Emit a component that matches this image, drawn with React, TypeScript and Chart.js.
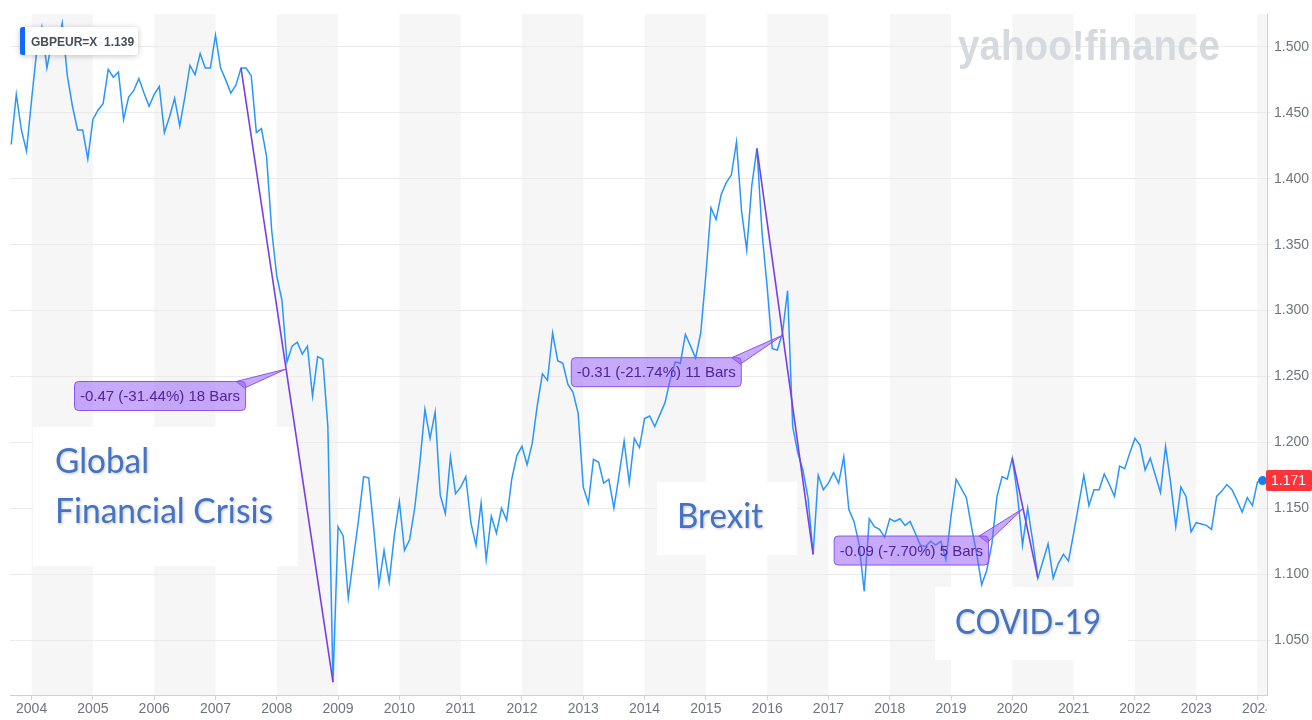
import React, { useEffect, useRef } from "react";
import { Chart, registerables } from "chart.js";

Chart.register(...registerables);

// Month index 0 = Jan 2004; first observation is Sep 2003 (index -4)
const FIRST_MONTH = -4;

// GBP/EUR monthly closes, Sep 2003 .. Feb 2024
const gbpeur: number[] = [
  // 2003 Sep-Dec
  1.426, 1.464, 1.437, 1.421,
  // 2004
  1.460, 1.497, 1.515, 1.484, 1.505, 1.498, 1.518, 1.478, 1.455, 1.437, 1.437, 1.415,
  // 2005
  1.445, 1.452, 1.457, 1.483, 1.477, 1.481, 1.445, 1.462, 1.467, 1.476, 1.465, 1.455,
  // 2006
  1.464, 1.470, 1.435, 1.447, 1.461, 1.440, 1.462, 1.486, 1.479, 1.495, 1.484, 1.484,
  // 2007
  1.509, 1.484, 1.475, 1.465, 1.471, 1.484, 1.484, 1.478, 1.435, 1.438, 1.417, 1.361,
  // 2008
  1.326, 1.308, 1.261, 1.273, 1.276, 1.267, 1.273, 1.235, 1.265, 1.263, 1.212, 1.018,
  // 2009
  1.136, 1.129, 1.082, 1.112, 1.141, 1.174, 1.173, 1.134, 1.092, 1.118, 1.094, 1.129,
  // 2010
  1.155, 1.118, 1.126, 1.150, 1.184, 1.225, 1.203, 1.223, 1.160, 1.146, 1.189, 1.161,
  // 2011
  1.166, 1.174, 1.139, 1.122, 1.154, 1.111, 1.144, 1.131, 1.150, 1.141, 1.172, 1.190,
  // 2012
  1.197, 1.183, 1.199, 1.228, 1.252, 1.247, 1.283, 1.262, 1.260, 1.244, 1.238, 1.222,
  // 2013
  1.166, 1.154, 1.187, 1.185, 1.169, 1.172, 1.150, 1.175, 1.201, 1.169, 1.203, 1.196,
  // 2014
  1.218, 1.220, 1.212, 1.221, 1.230, 1.247, 1.261, 1.260, 1.282, 1.273, 1.264, 1.283,
  // 2015
  1.327, 1.378, 1.369, 1.388, 1.397, 1.403, 1.428, 1.375, 1.346, 1.395, 1.423, 1.359,
  // 2016
  1.318, 1.271, 1.270, 1.283, 1.315, 1.212, 1.192, 1.179, 1.158, 1.115, 1.175, 1.164,
  // 2017
  1.169, 1.177, 1.169, 1.189, 1.149, 1.140, 1.123, 1.087, 1.142, 1.136, 1.134, 1.128,
  // 2018
  1.142, 1.140, 1.142, 1.137, 1.140, 1.131, 1.122, 1.121, 1.125, 1.122, 1.125, 1.111,
  // 2019
  1.144, 1.172, 1.165, 1.158, 1.136, 1.116, 1.092, 1.103, 1.123, 1.159, 1.174, 1.172,
  // 2020
  1.188, 1.160, 1.122, 1.150, 1.125, 1.097, 1.110, 1.123, 1.097, 1.108, 1.115, 1.110,
  // 2021
  1.131, 1.153, 1.175, 1.152, 1.164, 1.164, 1.176, 1.168, 1.159, 1.182, 1.180, 1.192,
  // 2022
  1.203, 1.198, 1.179, 1.188, 1.175, 1.162, 1.197, 1.169, 1.136, 1.166, 1.159, 1.132,
  // 2023
  1.139, 1.138, 1.137, 1.134, 1.159, 1.163, 1.168, 1.164, 1.156, 1.147, 1.158, 1.152,
  // 2024 Jan-Feb
  1.170, 1.171,
];

const yearTicks: number[] = [
  2004, 2005, 2006, 2007, 2008, 2009, 2010, 2011, 2012, 2013, 2014,
  2015, 2016, 2017, 2018, 2019, 2020, 2021, 2022, 2023, 2024,
];

const priceTicks: number[] = [1.05, 1.1, 1.15, 1.2, 1.25, 1.3, 1.35, 1.4, 1.45, 1.5];

// Drawdown measurements (start month, end month) and their labels
const dropStarts: number[] = [41, 142, 192];
const dropEnds: number[] = [59, 153, 197];
const dropLabels: string[] = [
  "-0.47 (-31.44%) 18 Bars",
  "-0.31 (-21.74%) 11 Bars",
  "-0.09 (-7.70%) 5 Bars",
];

const eventLabels: string[][] = [["Global", "Financial Crisis"], ["Brexit"], ["COVID-19"]];

const SYMBOL = "GBPEUR=X";
const SYMBOL_PRICE = "1.139";

// ---- styling (pixel layout) ----
const calloutStyle = [
  { t: 0.49, dx: -41, dy: 12 },
  { t: 0.46, dx: -42, dy: 22 },
  { t: 0.42, dx: -35, dy: 27 },
];
const eventBoxes = [
  { x: 33, y: 427, w: 265, h: 139, tx: 55, ty: [473, 523], mw: [94, 218] },
  { x: 657, y: 482, w: 140, h: 73, tx: 677, ty: [528], mw: [86] },
  { x: 935, y: 587, w: 193, h: 73, tx: 955, ty: [634], mw: [146] },
];

const valueAt = (m: number) => gbpeur[m - FIRST_MONTH];

function rr(ctx: CanvasRenderingContext2D, x: number, y: number, w: number, h: number, r: number) {
  ctx.beginPath();
  ctx.moveTo(x + r, y);
  ctx.lineTo(x + w - r, y);
  ctx.quadraticCurveTo(x + w, y, x + w, y + r);
  ctx.lineTo(x + w, y + h - r);
  ctx.quadraticCurveTo(x + w, y + h, x + w - r, y + h);
  ctx.lineTo(x + r, y + h);
  ctx.quadraticCurveTo(x, y + h, x, y + h - r);
  ctx.lineTo(x, y + r);
  ctx.quadraticCurveTo(x, y, x + r, y);
  ctx.closePath();
}

const decorPlugin = {
  id: "decor",
  beforeDraw(chart: any) {
    const { ctx, chartArea: a, scales } = chart;
    const x = scales.x;
    ctx.save();
    ctx.fillStyle = "#ffffff";
    ctx.fillRect(0, 0, chart.width, chart.height);
    ctx.fillStyle = "#f6f6f6";
    for (const yr of yearTicks) {
      if (yr % 2 !== 0) continue;
      const x0 = x.getPixelForValue((yr - 2004) * 12);
      const x1 = Math.min(x.getPixelForValue((yr - 2003) * 12), a.right);
      ctx.fillRect(x0, a.top, x1 - x0, a.bottom - a.top);
    }
    ctx.restore();
  },
  beforeDatasetsDraw(chart: any) {
    const { ctx } = chart;
    ctx.save();
    // watermark
    ctx.fillStyle = "#d6d9de";
    ctx.font = 'bold 42px "Liberation Sans", Arial, sans-serif';
    ctx.textBaseline = "alphabetic";
    ctx.fillText("yahoo!finance", 958, 60, 262);
    // event boxes
    eventBoxes.forEach((b, i) => {
      ctx.shadowColor = "transparent";
      ctx.fillStyle = "#ffffff";
      ctx.fillRect(b.x, b.y, b.w, b.h);
      ctx.font = '34px Lato, "Open Sans", sans-serif';
      ctx.fillStyle = "#4472c4";
      ctx.shadowColor = "rgba(0,0,0,0.22)";
      ctx.shadowBlur = 3;
      ctx.shadowOffsetX = 1;
      ctx.shadowOffsetY = 1;
      eventLabels[i].forEach((line, j) => {
        ctx.fillText(line, b.tx, b.ty[j], b.mw[j]);
      });
      ctx.shadowColor = "transparent";
      ctx.shadowBlur = 0;
      ctx.shadowOffsetX = 0;
      ctx.shadowOffsetY = 0;
    });
    ctx.restore();
  },
  afterDatasetsDraw(chart: any) {
    const { ctx, chartArea: a, scales } = chart;
    const x = scales.x;
    const y = scales.y;
    ctx.save();
    // callouts
    dropStarts.forEach((s, i) => {
      const e = dropEnds[i];
      const st = calloutStyle[i];
      const x0 = x.getPixelForValue(s);
      const y0 = y.getPixelForValue(valueAt(s));
      const x1 = x.getPixelForValue(e);
      const y1 = y.getPixelForValue(valueAt(e));
      const ax = x0 + (x1 - x0) * st.t;
      const ay = y0 + (y1 - y0) * st.t;
      ctx.font = '15px "Liberation Sans", Arial, sans-serif';
      const tw = ctx.measureText(dropLabels[i]).width;
      const w = tw + 11;
      const h = 29;
      const right = ax + st.dx;
      const top = ay + st.dy;
      const left = right - w;
      const fill = "rgba(143, 85, 247, 0.5)";
      const stroke = "#8a55ec";
      ctx.lineWidth = 1;
      ctx.beginPath();
      ctx.moveTo(right - 9, top + 0.5);
      ctx.lineTo(ax, ay);
      ctx.lineTo(right - 0.5, top + 7);
      ctx.closePath();
      ctx.fillStyle = fill;
      ctx.fill();
      ctx.strokeStyle = stroke;
      ctx.stroke();
      rr(ctx, left + 0.5, top + 0.5, w, h, 4);
      ctx.fillStyle = fill;
      ctx.fill();
      ctx.strokeStyle = stroke;
      ctx.stroke();
      ctx.fillStyle = "#4f2596";
      ctx.textBaseline = "middle";
      ctx.fillText(dropLabels[i], left + 6, top + h / 2 + 1.5);
    });

    // symbol label (top-left)
    ctx.shadowColor = "rgba(0,0,0,0.22)";
    ctx.shadowBlur = 6;
    ctx.shadowOffsetY = 1;
    rr(ctx, 20, 27, 118, 28, 3);
    ctx.fillStyle = "#ffffff";
    ctx.fill();
    ctx.shadowColor = "transparent";
    ctx.shadowBlur = 0;
    ctx.shadowOffsetY = 0;
    rr(ctx, 20, 27, 5, 28, 2.5);
    ctx.fillStyle = "#0f69ff";
    ctx.fill();
    ctx.fillRect(23, 27, 2, 28);
    ctx.fillStyle = "#ffffff";
    ctx.fillRect(25, 27, 2, 28);
    ctx.font = 'bold 12px "Liberation Sans", Arial, sans-serif';
    ctx.fillStyle = "#464e56";
    ctx.textBaseline = "alphabetic";
    ctx.fillText(SYMBOL + "  " + SYMBOL_PRICE, 31, 46, 104);

    // current price tag
    const last = gbpeur[gbpeur.length - 1];
    const py = y.getPixelForValue(last);
    rr(ctx, 1266, py - 10.5, 46, 21, 2);
    ctx.fillStyle = "#ff333a";
    ctx.fill();
    ctx.font = '14px "Liberation Sans", Arial, sans-serif';
    ctx.fillStyle = "#ffffff";
    ctx.textBaseline = "middle";
    ctx.fillText(last.toFixed(3), 1271, py + 0.5);

    // clip the last year label under the price-axis column
    ctx.fillStyle = "#ffffff";
    ctx.fillRect(1266.5, a.bottom + 1, chart.width - 1266.5, chart.height - a.bottom - 1);
    ctx.restore();
  },
};

export default function App() {
  const ref = useRef<HTMLCanvasElement | null>(null);

  useEffect(() => {
    document.body.style.margin = "0";
    const canvas = ref.current;
    if (!canvas) return;
    const seriesData = gbpeur.map((v, i) => ({ x: FIRST_MONTH + i, y: v }));
    const lastIndex = gbpeur.length - 1;
    const dropSets = dropStarts.map((s, i) => ({
      data: [
        { x: s, y: valueAt(s) },
        { x: dropEnds[i], y: valueAt(dropEnds[i]) },
      ],
      borderColor: "#7a3ee6",
      borderWidth: 1.6,
      pointRadius: 0,
      order: 1,
    }));

    const chart = new Chart(canvas, {
      type: "line",
      data: {
        datasets: [
          ...dropSets,
          {
            data: seriesData,
            borderColor: "rgb(40, 150, 252)",
            borderWidth: 1.5,
            tension: 0,
            pointRadius: (c: any) => (c.dataIndex === lastIndex ? 4.5 : 0),
            pointBackgroundColor: "rgb(18, 128, 245)",
            pointBorderWidth: 0,
            order: 2,
          },
        ],
      } as any,
      options: {
        animation: false,
        responsive: false,
        devicePixelRatio: 1,
        parsing: true,
        layout: { padding: { left: 10, top: 14, right: 0, bottom: 0 }, autoPadding: false },
        plugins: { legend: { display: false }, tooltip: { enabled: false } },
        events: [],
        scales: {
          x: {
            type: "linear",
            min: -4.23,
            max: 241.86,
            afterBuildTicks: (s: any) => {
              s.ticks = yearTicks.map((yr) => ({ value: (yr - 2004) * 12 }));
            },
            afterFit: (s: any) => {
              s.height = 25;
            },
            grid: { drawOnChartArea: false, drawTicks: true, tickLength: 5, color: "#d6d6d6" },
            border: { display: true, color: "#d0d0d0", width: 1 },
            ticks: {
              autoSkip: false,
              maxRotation: 0,
              padding: 1,
              color: "#6e757c",
              font: { family: '"Liberation Sans", Arial, sans-serif', size: 14 },
              callback: (v: any) => String(2004 + Math.round(Number(v) / 12)),
            },
          },
          y: {
            type: "linear",
            position: "right",
            min: 1.0083,
            max: 1.525,
            afterBuildTicks: (s: any) => {
              s.ticks = priceTicks.map((v) => ({ value: v }));
            },
            afterFit: (s: any) => {
              s.width = 45;
            },
            grid: { color: "#ebebeb", drawTicks: true, tickLength: 4, lineWidth: 1 },
            border: { display: true, color: "#d0d0d0", width: 1 },
            ticks: {
              padding: 3,
              color: "#6e757c",
              font: { family: '"Liberation Sans", Arial, sans-serif', size: 14 },
              callback: (v: any) => Number(v).toFixed(3),
            },
          },
        },
      } as any,
      plugins: [decorPlugin],
    });
    return () => chart.destroy();
  }, []);

  return (
    <div style={{ width: 1312, height: 720 }}>
      <canvas ref={ref} width={1312} height={720} style={{ display: "block", width: 1312, height: 720 }} />
    </div>
  );
}
